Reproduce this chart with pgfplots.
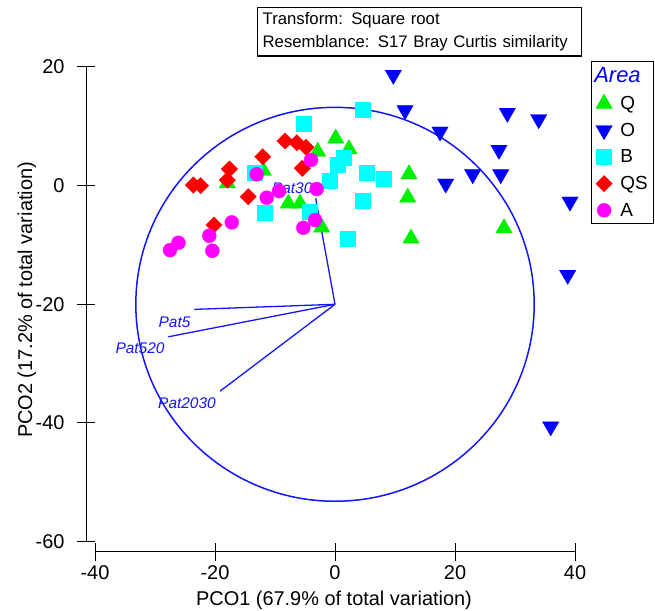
\documentclass[border=0pt]{standalone}
\usepackage{fontspec}
\setmainfont{Liberation Sans}
\usepackage{pgfplots}
\pgfplotsset{compat=1.18}
\definecolor{cQ}{RGB}{0,240,0}
\definecolor{cO}{RGB}{0,0,255}
\definecolor{cB}{RGB}{0,255,255}
\definecolor{cQS}{RGB}{255,0,0}
\definecolor{cA}{RGB}{255,0,255}
\definecolor{vec}{RGB}{20,20,255}
\pgfplotsset{
  noarrows/.style={axis line style={-}, every outer x axis line/.append style={-}, every outer y axis line/.append style={-},
    every inner x axis line/.append style={-}, every inner y axis line/.append style={-}},
}
\begin{document}
\begin{tikzpicture}[x=1bp,y=1bp]
\useasboundingbox (0,0) rectangle (655,611);

% Y axis
\begin{axis}[at={(86bp,69.4bp)}, anchor=south west, scale only axis,
  width=10bp, height=474.6bp, xmin=0, xmax=1, ymin=-60, ymax=20,
  axis y line=left, axis x line=none, noarrows,
  axis line style={line width=1bp, black},
  ytick={-60,-40,-20,0,20}, yticklabels={-60,-40,-20,0,20},
  tick align=center, major tick length=18bp, tick style={line width=1bp, black},
  yticklabel style={font=\fontsize{20}{24}\selectfont, anchor=east, xshift=-9bp}]
\end{axis}

% X axis
\begin{axis}[at={(95bp,59bp)}, anchor=south west, scale only axis,
  width=480bp, height=10bp, xmin=-40, xmax=40, ymin=0, ymax=1,
  axis x line=bottom, axis y line=none, noarrows,
  axis line style={line width=1bp, black},
  xtick={-40,-20,0,20,40}, xticklabels={-40,-20,0,20,40},
  tick align=center, major tick length=18bp, tick style={line width=1bp, black},
  xticklabel style={font=\fontsize{20}{24}\selectfont, anchor=north, yshift=-1bp}]
\end{axis}

\node[rotate=90, font=\fontsize{20}{24}\selectfont] at (27,311) {PCO2 (17.2\% of total variation)};
\node[font=\fontsize{20}{24}\selectfont] at (334,11) {PCO1 (67.9\% of total variation)};

\node[draw=black, line width=1.3bp, anchor=north west, text width=314bp, minimum height=46bp,
  inner sep=5bp, align=left, font=\fontsize{16.8}{23}\selectfont] at (257,604)
  {Transform: Square root\\Resemblance: S17 Bray Curtis similarity};

% Data
\begin{axis}[at={(95bp,69.4bp)}, anchor=south west, scale only axis,
  width=480bp, height=474.6bp, xmin=-40, xmax=40, ymin=-60, ymax=20,
  hide axis, clip=false,
  legend style={at={(1.033,1.013)}, anchor=north west, draw=black, line width=1.5bp,
    font=\fontsize{19}{22}\selectfont, row sep=8bp, column sep=6bp, inner sep=4bp},
  legend cell align=left]

\addlegendimage{empty legend}
\addlegendentry{\hspace*{-26bp}\textcolor{cO}{\fontsize{22}{24}\selectfont\itshape Area}}

\addplot[only marks, mark=triangle*, mark size=9.5bp, mark options={fill=cQ, draw=cQ, line width=0.3bp}] coordinates {
(0.12,7.96) (2.33,6.16) (-2.88,5.72) (-11.95,2.52) (-17.95,0.43) (-7.78,-3.0)
(-5.83,-3.0) (-2.22,-7.04) (12.33,1.94) (12.12,-1.99) (12.67,-8.9) (28.17,-7.16)};
\addlegendentry{Q}

\addplot[only marks, mark=triangle*, mark size=9.5bp, mark options={rotate=180, fill=cO, draw=cO, line width=0.3bp}] coordinates {
(9.72,18.66) (11.67,12.69) (17.5,9.1) (28.72,12.25) (33.95,11.18) (27.33,6.02)
(22.95,1.9) (27.62,1.9) (18.45,0.33) (39.17,-2.7) (38.78,-15.06) (35.95,-40.6)};
\addlegendentry{O}

\addplot[only marks, mark=square*, mark size=7.5bp, mark options={fill=cB, draw=cB, line width=0.3bp}] coordinates {
(4.55,12.87) (-5.28,10.5) (1.38,4.7) (0.38,3.47) (5.28,2.24) (8.05,1.23)
(-0.95,0.78) (-13.45,2.18) (-11.78,-4.5) (-4.17,-4.4) (4.55,-2.6) (2.05,-8.89)};
\addlegendentry{B}

\addplot[only marks, mark=square*, mark size=5.8bp, mark options={rotate=45, fill=cQS, draw=cQS, line width=0.3bp}] coordinates {
(-23.6,0.1) (-22.4,0.0) (-17.6,2.8) (-17.95,0.94) (-12.05,4.87) (-14.45,-1.87)
(-8.33,7.52) (-6.38,7.23) (-4.83,6.46) (-5.45,2.92) (-20.17,-6.64)};
\addlegendentry{QS}

\addplot[only marks, mark=*, mark size=7bp, mark options={fill=cA, draw=cA, line width=0.3bp}] coordinates {
(-27.5,-10.86) (-26.1,-9.63) (-20.95,-8.45) (-20.45,-10.98) (-17.2,-6.19) (-13.05,1.91)
(-11.38,-2.04) (-9.33,-0.91) (-4.0,4.32) (-3.05,-0.57) (-5.28,-7.1) (-3.33,-5.8)};
\addlegendentry{A}

% vectors
\addplot[vec, line width=1.3bp, forget plot] coordinates {(0,-20) (-3.22,-2.14)};
\addplot[vec, line width=1.3bp, forget plot] coordinates {(0,-20) (-23.45,-20.86)};
\addplot[vec, line width=1.3bp, forget plot] coordinates {(0,-20) (-27.78,-25.48)};
\addplot[vec, line width=1.3bp, forget plot] coordinates {(0,-20) (-19.17,-34.65)};

\draw[vec, line width=1.5bp] (axis cs:0,-20) ellipse [x radius=33.2, y radius=33.2];

\node[vec, font=\fontsize{15.5}{18}\selectfont\itshape] at (axis cs:-7.13,-0.46) {Pat30};
\node[vec, font=\fontsize{15.5}{18}\selectfont\itshape] at (axis cs:-26.75,-22.95) {Pat5};
\node[vec, font=\fontsize{15.5}{18}\selectfont\itshape] at (axis cs:-32.5,-27.44) {Pat520};
\node[vec, font=\fontsize{15.5}{18}\selectfont\itshape] at (axis cs:-24.67,-36.7) {Pat2030};
\end{axis}
\end{tikzpicture}
\end{document}
